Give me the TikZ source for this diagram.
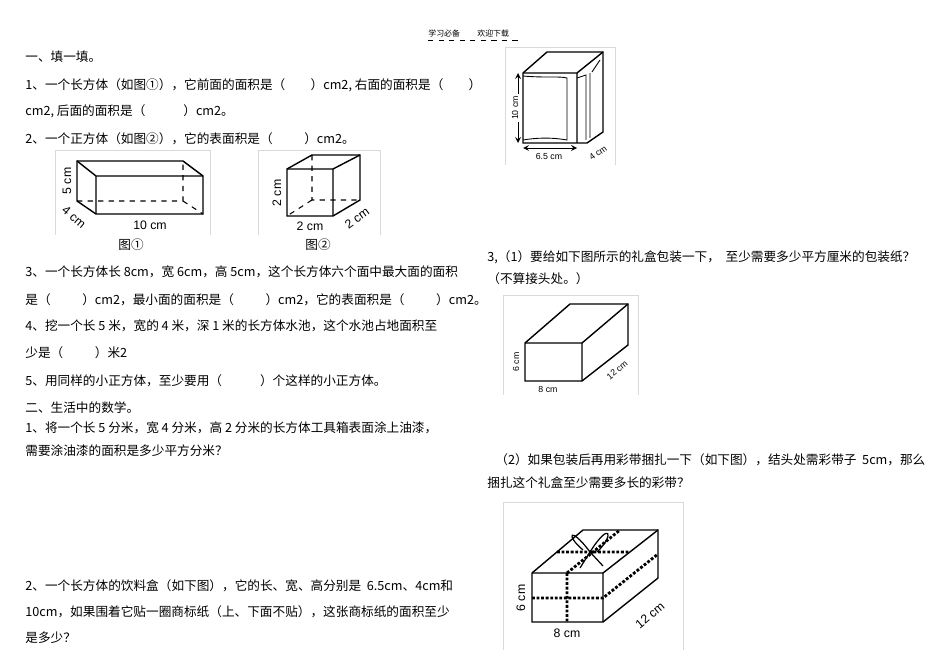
\documentclass[tikz,border=0pt]{standalone}
\usepackage{fontspec}
\setmainfont{Noto Sans CJK SC}
\newfontfamily\lab{Liberation Sans}
\begin{document}
\begin{tikzpicture}[x=0.02cm,y=-0.02cm,
 tx/.style={anchor=west,font=\fontsize{7.2}{8}\selectfont,inner sep=0},
 lb/.style={font=\lab\fontsize{7}{8}\selectfont,inner sep=0pt},
 sl/.style={font=\lab\fontsize{5}{6}\selectfont,inner sep=0pt},
 fr/.style={draw=black!15,line width=0.5pt},
 ed/.style={line width=0.8pt},
 hd/.style={dashed,line width=0.6pt}]
\useasboundingbox (0,0) rectangle (950,672);
\fill[white] (0,0) rectangle (950,672);
% header
\node[tx,font=\fontsize{4.5}{5}\selectfont] (hd) at (428,33) {学习必备\hspace{2.2em}欢迎下载};
\draw[dashed,line width=0.3pt] (428,40) -- (522,40);
% left text
\node[tx] (t1) at (25,57) {一、填一填。};
\node[tx] (t2) at (25,85) {1、一个长方体（如图①），它前面的面积是（\hspace{2em}）cm2, 右面的面积是（\hspace{2em}）};
\node[tx] (t3) at (25,111) {cm2, 后面的面积是（\hspace{3em}）cm2。};
\node[tx] (t4) at (25,139) {2、一个正方体（如图②），它的表面积是（\hspace{2.5em}）cm2。};
\node[tx] (t5) at (25,272) {3、一个长方体长 8cm，宽 6cm，高 5cm，这个长方体六个面中最大面的面积};
\node[tx] (t6) at (25,300) {是（\hspace{2.5em}）cm2，最小面的面积是（\hspace{2.5em}）cm2，它的表面积是（\hspace{2.5em}）cm2。};
\node[tx] (t7) at (25,326) {4、挖一个长 5 米，宽的 4 米，深 1 米的长方体水池，这个水池占地面积至};
\node[tx] (t8) at (25,353) {少是（\hspace{2.5em}）米2};
\node[tx] (t9) at (25,381) {5、用同样的小正方体，至少要用（\hspace{3em}）个这样的小正方体。};
\node[tx] (t10) at (25,408) {二、生活中的数学。};
\node[tx] (t11) at (25,428) {1、将一个长 5 分米，宽 4 分米，高 2 分米的长方体工具箱表面涂上油漆，};
\node[tx] (t12) at (25,451) {需要涂油漆的面积是多少平方分米？};
\node[tx] (t13) at (25,586) {2、一个长方体的饮料盒（如下图），它的长、宽、高分别是\ \ 6.5cm、4cm和};
\node[tx] (t14) at (25,612) {10cm，如果围着它贴一圈商标纸（上、下面不贴），这张商标纸的面积至少};
\node[tx] (t15) at (25,638) {是多少？};
% right text
\node[tx] (r1) at (487,257) {3,（1）要给如下图所示的礼盒包装一下，\ \ 至少需要多少平方厘米的包装纸？};
\node[tx] (r2) at (487,279) {（不算接头处。）};
\node[tx] (r3) at (495,460) {（2）如果包装后再用彩带捆扎一下（如下图），结头处需彩带子\ \ 5cm，那么};
\node[tx] (r4) at (487,483) {捆扎这个礼盒至少需要多长的彩带？};
% fig 1
\draw[fr] (55,235) -- (55,150) -- (210,150) -- (210,235);
\draw[ed] (77,161) -- (183,161) -- (203,176) -- (203,214) -- (96,214) -- (77,201) -- cycle;
\draw[ed] (77,161) -- (96,176) -- (203,176) (96,176) -- (96,214);
\draw[hd] (77,201) -- (183,201) -- (183,161) (183,201) -- (203,214);
\node[lb,rotate=90] (f1a) at (67,181) {5 cm};
\node[lb,rotate=-40] (f1b) at (74,217) {4 cm};
\node[lb] (f1c) at (150,225) {10 cm};
\node[tx,anchor=center] (c1) at (131,245) {图①};
% fig 2
\draw[fr] (258,235) -- (258,150) -- (380,150) -- (380,235);
\draw[ed] (287,169) -- (312,155) -- (360,155) -- (360,200) -- (333,216) -- (287,216) -- cycle;
\draw[ed] (287,169) -- (333,169) -- (360,155) (333,169) -- (333,216);
\draw[hd] (312,155) -- (312,200) -- (360,200) (312,200) -- (287,216);
\node[lb,rotate=90] (f2a) at (277,193) {2 cm};
\node[lb] (f2b) at (310,226) {2 cm};
\node[lb,rotate=35] (f2c) at (357,218) {2 cm};
\node[tx,anchor=center] (c2) at (318,245) {图②};
% drink box
\draw[fr] (505,165) -- (505,47) -- (615,47) -- (615,165);
\draw[ed] (523,73) -- (547,52) -- (603,52) -- (603,132) -- (587,143) -- (523,143) -- cycle;
\draw[ed] (523,73) -- (577,73) -- (603,52) (577,73) -- (577,143);
\draw[line width=0.5pt] (523,76) .. controls (545,78) and (560,76) .. (567,78) -- (567,140) .. controls (550,137) and (535,138) .. (523,140);
\draw[line width=0.5pt] (577,78) -- (586,75) -- (586,140) (592,72) -- (600,60) (590,73) -- (590,138);
\draw[line width=0.5pt,<->,>=stealth] (518,73) -- (518,143);
\node[sl,rotate=90,fill=white,inner sep=1pt] (dl) at (515,108) {10 cm};
\draw[line width=0.5pt,<->,>=stealth] (523,148) -- (577,148);
\node[sl,fill=white,inner sep=1pt] (dw) at (549,156) {6.5 cm};
\node[sl,rotate=35] (dd) at (598,153) {4 cm};
% gift box 1
\draw[fr] (503,395) -- (503,295) -- (638,295) -- (638,395);
\draw[ed] (525,343) -- (570,304) -- (628,304) -- (628,345) -- (582,381) -- (525,381) -- cycle;
\draw[ed] (525,343) -- (582,343) -- (628,304) (582,343) -- (582,381);
\node[sl,rotate=90] (g1a) at (516,362) {6 cm};
\node[sl] (g1b) at (548,389) {8 cm};
\node[sl,rotate=40] (g1c) at (617,370) {12 cm};
% gift box 2
\draw[fr] (503,650) -- (503,502) -- (683,502) -- (683,650);
\draw[ed] (532,573) -- (583,530) -- (658,530) -- (658,578) -- (603,622) -- (532,622) -- cycle;
\draw[ed] (532,573) -- (603,573) -- (658,530) (603,573) -- (603,622);
\draw[line width=1.6pt,densely dotted] (567,573) -- (567,622) (532,598) -- (603,598) -- (658,554);
\draw[line width=1.6pt,densely dotted] (567,573) -- (620,530) (557,552) -- (630,552);
\draw[line width=0.7pt] (590,552) .. controls (570,525) and (565,535) .. (583,550) (590,552) .. controls (610,520) and (615,535) .. (597,552)
 (590,552) -- (580,568) (590,552) -- (603,566);
\node[lb,rotate=90] (g2a) at (521,598) {6 cm};
\node[lb] (g2b) at (567,633) {8 cm};
\node[lb,rotate=40] (g2c) at (650,615) {12 cm};
\end{tikzpicture}
\end{document}
